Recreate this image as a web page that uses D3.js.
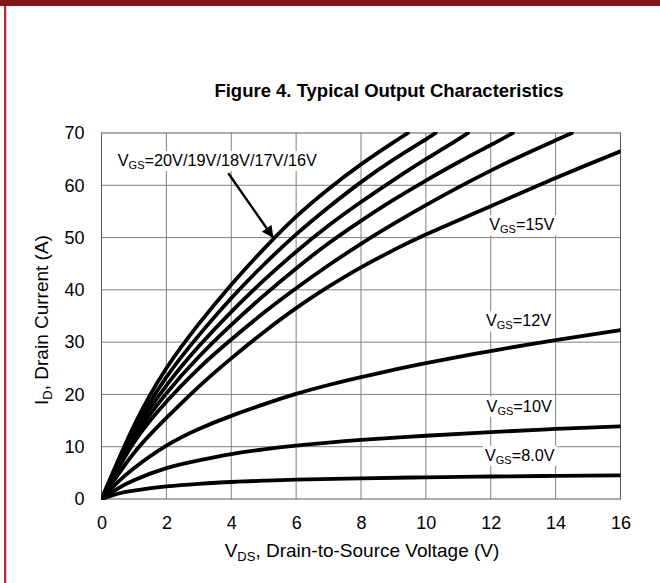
<!DOCTYPE html>
<html>
<head>
<meta charset="utf-8">
<script src="https://cdn.jsdelivr.net/npm/d3@7"></script>
<style>
  body { margin: 0; background: #fff; }
  svg { display: block; font-family: "Liberation Sans", Arial, sans-serif; }
</style>
</head>
<body>
<svg id="chart"></svg>
<script>
// axis ticks
const vdsTicks = [0, 2, 4, 6, 8, 10, 12, 14, 16];
const idTicks = [0, 10, 20, 30, 40, 50, 60, 70];

// curves: [V_DS (V), I_D (A)]
const vgs20 = [[0,0],[1,14],[2,25],[3,33.5],[4,41],[5,47.8],[6,54],[7,59.3],[8,64],[9,68.2],[9.45,70]];
const vgs19 = [[0,0],[1,13],[2,23.3],[3,31.3],[4,38.4],[5,44.8],[6,50.6],[7,55.8],[8,60.6],[9,64.9],[10,68.8],[10.3,70]];
const vgs18 = [[0,0],[1,12.3],[2,21.7],[3,29.2],[4,35.8],[5,41.8],[6,47.3],[7,52.3],[8,56.8],[9,61.0],[10,65.0],[11,68.8],[11.3,70]];
const vgs17 = [[0,0],[1,11.5],[2,20.2],[3,27.2],[4,33.3],[5,38.9],[6,44.1],[7,48.9],[8,53.2],[9,57.2],[10,60.9],[11,64.4],[12,67.7],[12.68,70]];
const vgs16 = [[0,0],[1,10.8],[2,18.6],[3,25],[4,30.5],[5,35.6],[6,40.3],[7,44.7],[8,48.8],[9,52.6],[10,56.2],[11,59.6],[12,62.8],[13,65.8],[14,68.6],[14.5,70]];
const vgs15 = [[0,0],[1,8.8],[2,15.5],[3,21.5],[4,26.9],[5,31.9],[6,36.5],[7,40.6],[8,44.3],[9,47.6],[10,50.6],[12,56.0],[14,61.4],[16,66.5]];
const vgs12 = [[0,0],[0.5,3.2],[1,5.9],[2,10.2],[3,13.4],[4,15.9],[5,18.1],[6,20.1],[7,21.8],[8,23.3],[9,24.7],[10,26],[12,28.3],[14,30.4],[16,32.3]];
const vgs10 = [[0,0],[0.5,2],[1,3.6],[2,5.9],[3,7.4],[4,8.6],[5,9.5],[6,10.2],[7,10.8],[8,11.3],[10,12.1],[12,12.8],[14,13.4],[16,13.9]];
const vgs8 = [[0,0],[0.5,1],[1,1.6],[2,2.4],[3,2.9],[4,3.25],[5,3.5],[6,3.7],[8,3.95],[10,4.15],[12,4.3],[14,4.42],[16,4.5]];
const curves = [vgs20, vgs19, vgs18, vgs17, vgs16, vgs15, vgs12, vgs10, vgs8];

// label texts
const labelTexts = ['=20V/19V/18V/17V/16V', '=15V', '=12V', '=10V', '=8.0V'];
const titleText = 'Figure 4. Typical Output Characteristics';

class OutputChart {

  constructor(_config) {
    this.config = {
      parentElement: _config.parentElement,
      containerWidth: 660,
      containerHeight: 583,
      margin: {top: 133, right: 39.5, bottom: 84, left: 101.5}
    }
    this.initVis();
  }

  initVis() {
    let vis = this;

    vis.width = vis.config.containerWidth - vis.config.margin.left - vis.config.margin.right;
    vis.height = vis.config.containerHeight - vis.config.margin.top - vis.config.margin.bottom;

    vis.svg = d3.select(vis.config.parentElement)
        .attr('width', vis.config.containerWidth)
        .attr('height', vis.config.containerHeight);

    // page frame: dark red bar on top, thin red rule on the left
    vis.svg.append('rect').attr('x', 0).attr('y', 0).attr('width', 660).attr('height', 6).attr('fill', '#7f141b');
    vis.svg.append('rect').attr('x', 4).attr('y', 6).attr('width', 2.3).attr('height', 577).attr('fill', '#a8323c');

    vis.xScale = d3.scaleLinear().domain([0, 16]).range([0, vis.width]);
    vis.yScale = d3.scaleLinear().domain([0, 70]).range([vis.height, 0]);

    vis.chart = vis.svg.append('g')
        .attr('transform', `translate(${vis.config.margin.left},${vis.config.margin.top})`);

    vis.svg.append('text')
        .attr('x', 389)
        .attr('y', 97)
        .attr('text-anchor', 'middle')
        .attr('font-size', 18.5)
        .attr('font-weight', 'bold')
        .text(titleText);

    vis.renderVis();
  }

  renderVis() {
    let vis = this;

    // grid
    vis.chart.append('g').selectAll('line')
        .data(vdsTicks.slice(1, -1))
      .join('line')
        .attr('x1', d => vis.xScale(d)).attr('x2', d => vis.xScale(d))
        .attr('y1', 0).attr('y2', vis.height)
        .attr('stroke', '#808080').attr('stroke-width', 1);
    vis.chart.append('g').selectAll('line')
        .data(idTicks.slice(1, -1))
      .join('line')
        .attr('y1', d => vis.yScale(d)).attr('y2', d => vis.yScale(d))
        .attr('x1', 0).attr('x2', vis.width)
        .attr('stroke', '#808080').attr('stroke-width', 1);
    vis.chart.append('rect')
        .attr('width', vis.width).attr('height', vis.height)
        .attr('fill', 'none').attr('stroke', '#5a5a5a').attr('stroke-width', 1);

    // axes (labels only)
    const xAxis = d3.axisBottom(vis.xScale).tickValues(vdsTicks).tickSize(0).tickPadding(17);
    const yAxis = d3.axisLeft(vis.yScale).tickValues(idTicks).tickSize(0).tickPadding(17);
    const xg = vis.chart.append('g').attr('transform', `translate(0,${vis.height})`).call(xAxis);
    const yg = vis.chart.append('g').call(yAxis);
    [xg, yg].forEach(g => {
      g.select('.domain').remove();
      g.selectAll('text').attr('font-size', 18).attr('fill', '#000')
        .attr('font-family', '"Liberation Sans", Arial, sans-serif');
    });

    // curves
    vis.svg.append('clipPath').attr('id', 'plot-clip')
      .append('rect').attr('width', vis.width).attr('height', vis.height + 2).attr('y', -1);
    const line = d3.line()
        .x(d => vis.xScale(d[0]))
        .y(d => vis.yScale(d[1]))
        .curve(d3.curveNatural);
    vis.chart.append('g').attr('clip-path', 'url(#plot-clip)')
      .selectAll('path')
        .data(curves)
      .join('path')
        .attr('d', line)
        .attr('fill', 'none')
        .attr('stroke', '#000')
        .attr('stroke-width', 3.8)
        .attr('stroke-linecap', 'round');

    // arrow for the bundle label
    vis.svg.append('defs').append('marker')
        .attr('id', 'arrowhead')
        .attr('viewBox', '0 0 10 10')
        .attr('refX', 9).attr('refY', 5)
        .attr('markerWidth', 5).attr('markerHeight', 5)
        .attr('orient', 'auto')
      .append('path').attr('d', 'M0,0L10,5L0,10z').attr('fill', '#000');
    vis.chart.append('line')
        .attr('x1', vis.xScale(3.91)).attr('y1', vis.yScale(62.3))
        .attr('x2', vis.xScale(5.28)).attr('y2', vis.yScale(50.1))
        .attr('stroke', '#000').attr('stroke-width', 2.4)
        .attr('marker-end', 'url(#arrowhead)');

    // VGS labels, anchored in data units
    const anchors = [[0.5, 63.7], [11.95, 51.4], [11.85, 33.0], [11.87, 16.7], [11.82, 7.3]];
    const labels = vis.chart.append('g').selectAll('g')
        .data(labelTexts)
      .join('g');
    labels.each(function(d, i) {
      const g = d3.select(this);
      const t = g.append('text')
          .attr('x', vis.xScale(anchors[i][0]))
          .attr('y', vis.yScale(anchors[i][1]))
          .attr('font-size', 16.3)
          .attr('fill', '#000');
      t.append('tspan').text('V');
      t.append('tspan').attr('font-size', 11).attr('dy', 3).text('GS');
      t.append('tspan').attr('dy', -3).text(d);
      const bb = t.node().getBBox();
      g.insert('rect', 'text')
          .attr('x', bb.x - 2).attr('y', bb.y)
          .attr('width', bb.width + 4).attr('height', bb.height)
          .attr('fill', '#fff');
    });

    // axis titles
    const yt = vis.svg.append('text')
        .attr('transform', 'translate(48,320) rotate(-90)')
        .attr('text-anchor', 'middle')
        .attr('font-size', 19);
    yt.append('tspan').text('I');
    yt.append('tspan').attr('font-size', 13).attr('dy', 4).text('D');
    yt.append('tspan').attr('dy', -4).text(', Drain Current (A)');

    const xt = vis.svg.append('text')
        .attr('x', 362).attr('y', 557)
        .attr('text-anchor', 'middle')
        .attr('font-size', 19);
    xt.append('tspan').text('V');
    xt.append('tspan').attr('font-size', 13).attr('dy', 4).text('DS');
    xt.append('tspan').attr('dy', -4).text(', Drain-to-Source Voltage (V)');
  }
}

new OutputChart({parentElement: '#chart'});
</script>
</body>
</html>
